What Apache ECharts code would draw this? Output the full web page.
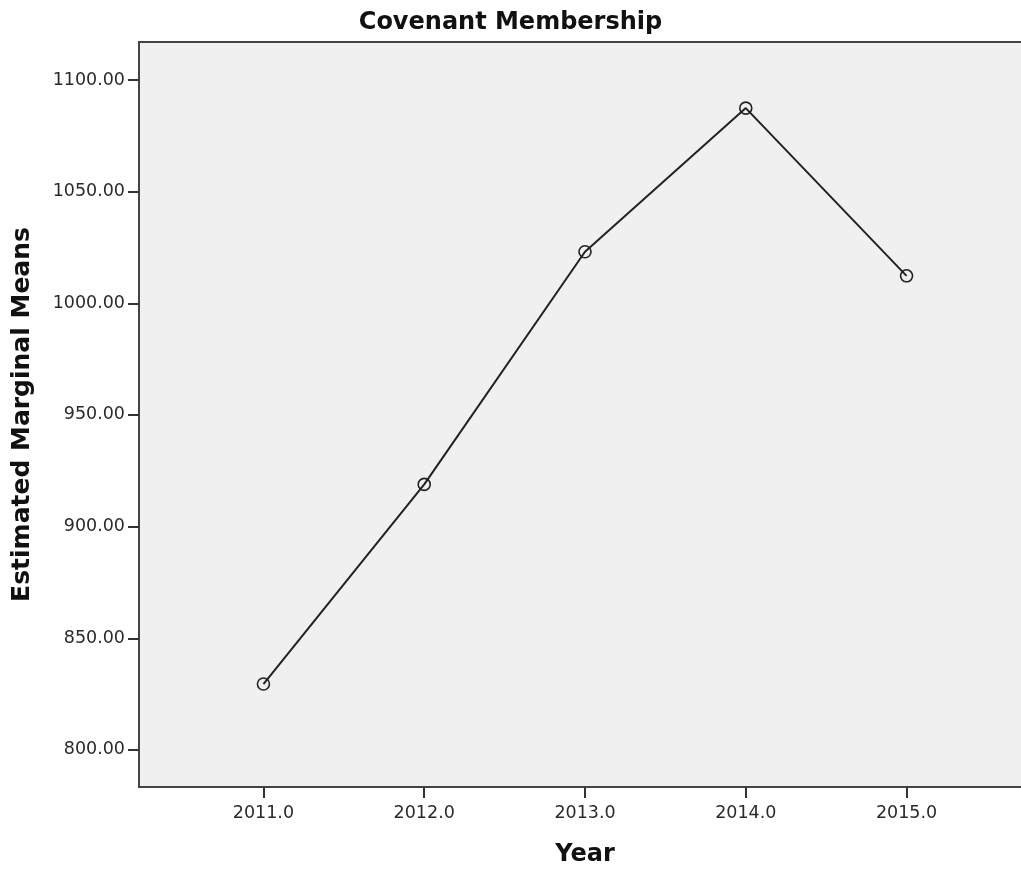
<!DOCTYPE html>
<html>
<head>
<meta charset="utf-8">
<script src="https://cdn.jsdelivr.net/npm/echarts@6/dist/echarts.min.js"></script>
<style>html,body{margin:0;padding:0;background:#fff;}#c{width:1021px;height:869px;}</style>
</head>
<body>
<div id="c"></div>
<script>
const years = [2011, 2012, 2013, 2014, 2015];
const means = [829.5, 918.9, 1023.1, 1087.4, 1012.3];
const yTicks = [800, 850, 900, 950, 1000, 1050, 1100];
const xTicks = [2011, 2012, 2013, 2014, 2015];

const chart = echarts.init(document.getElementById('c'), null, {renderer: 'canvas'});
const labelFont = {color: '#2a2a2a', fontFamily: 'DejaVu Sans', fontSize: 17.5};
chart.setOption({
  animation: false,
  backgroundColor: '#fff',
  title: {
    text: 'Covenant Membership',
    left: 'center',
    top: 6,
    textStyle: {fontFamily: 'DejaVu Sans', fontWeight: 'bold', fontSize: 24, color: '#111'}
  },
  grid: {
    left: 139, top: 42, width: 892, height: 745,
    outerBoundsMode: 'none',
    show: true, backgroundColor: '#f0f0f0', borderColor: '#444', borderWidth: 2,
    containLabel: false
  },
  xAxis: {
    type: 'value', min: 2010.226, max: 2015.774,
    name: 'Year', nameLocation: 'middle', nameGap: 56,
    nameTextStyle: {fontFamily: 'DejaVu Sans', fontWeight: 'bold', fontSize: 24, color: '#111'},
    axisLine: {show: true, lineStyle: {color: '#444', width: 2}},
    axisTick: {show: true, length: 11, lineStyle: {color: '#333', width: 2}, customValues: xTicks},
    axisLabel: Object.assign({margin: 17, customValues: xTicks, formatter: v => v.toFixed(1)}, labelFont),
    splitLine: {show: false}
  },
  yAxis: {
    type: 'value', min: 783.4, max: 1117,
    name: 'Estimated Marginal Means', nameLocation: 'middle', nameGap: 104,
    nameTextStyle: {fontFamily: 'DejaVu Sans', fontWeight: 'bold', fontSize: 25, color: '#111'},
    axisLine: {show: true, lineStyle: {color: '#444', width: 2}},
    axisTick: {show: true, length: 11, lineStyle: {color: '#333', width: 2}, customValues: yTicks},
    axisLabel: Object.assign({margin: 14, customValues: yTicks, formatter: v => v.toFixed(2)}, labelFont),
    splitLine: {show: false}
  },
  series: [{
    type: 'line',
    data: years.map((y, i) => [y, means[i]]),
    symbol: 'circle',
    symbolSize: 12,
    lineStyle: {color: '#222', width: 2},
    itemStyle: {color: 'rgba(0,0,0,0)', borderColor: '#222', borderWidth: 1.6},
    z: 3
  }]
});
</script>
</body>
</html>
